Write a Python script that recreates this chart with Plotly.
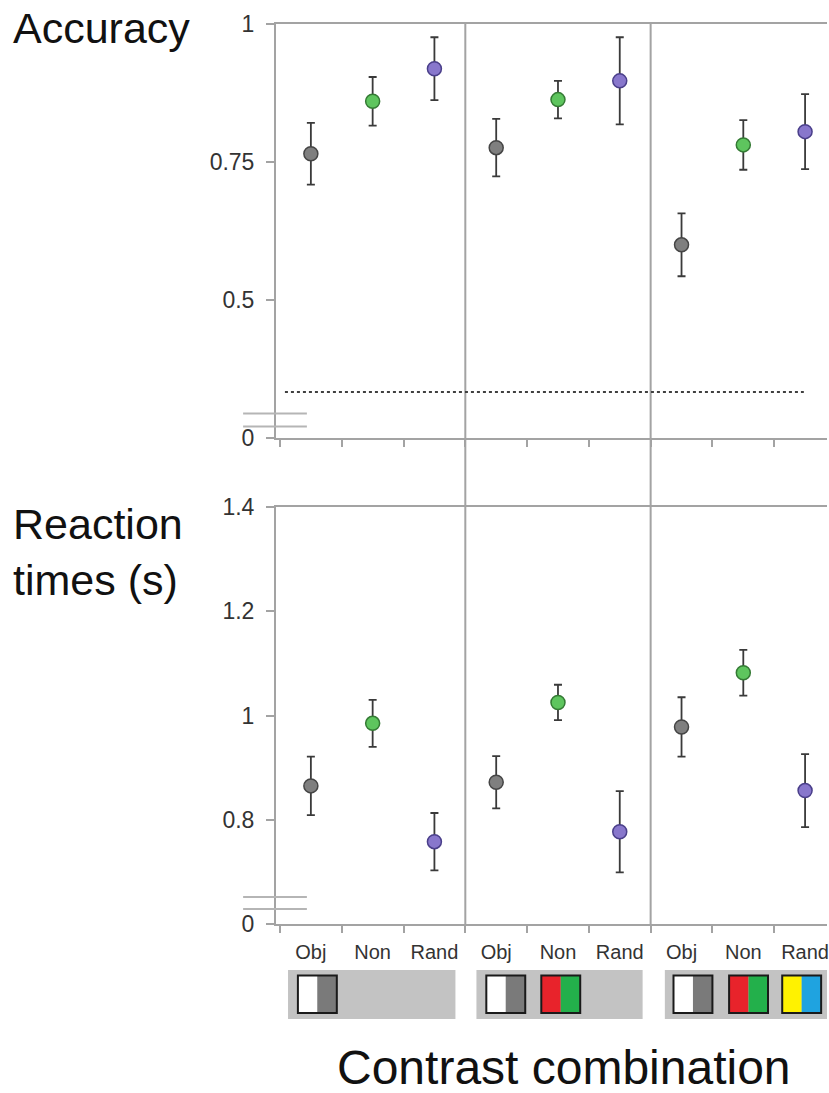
import plotly.graph_objects as go

# ---------------- data ----------------
categories = ["Obj", "Non", "Rand"]
panels = ["Achromatic", "Red-Green", "Yellow-Blue"]
cat_labels = categories * 3

acc_mean = [0.765, 0.860, 0.919, 0.776, 0.863, 0.897, 0.600, 0.781, 0.805]
acc_err = [0.056, 0.044, 0.057, 0.052, 0.034, 0.079, 0.057, 0.045, 0.068]
rt_mean = [0.865, 0.985, 0.758, 0.872, 1.025, 0.777, 0.978, 1.082, 0.856]
rt_err = [0.056, 0.045, 0.055, 0.050, 0.034, 0.078, 0.057, 0.044, 0.070]
chance_level = 1 / 3

acc_ticks = [0.25, 0.5, 0.75, 1.0]
acc_ticktext = ["0", "0.5", "0.75", "1"]
rt_ticks = [0.6, 0.8, 1.0, 1.2, 1.4]
rt_ticktext = ["0", "0.8", "1", "1.2", "1.4"]

# ---------------- styles ----------------
fill = {"Obj": "#7f7f7f", "Non": "#5ec55e", "Rand": "#8877cc"}
edge = {"Obj": "#454545", "Non": "#347a34", "Rand": "#4a3f8a"}
axis_col = "#a3a3a3"
txt_col = "#333333"
font_fam = "Liberation Sans, Arial, sans-serif"

xpos = [i + 0.5 for i in range(len(cat_labels))]

fig = go.Figure()
for ydata, err, yax in [(acc_mean, acc_err, "y"), (rt_mean, rt_err, "y2")]:
    fig.add_trace(go.Scatter(
        x=xpos, y=ydata, mode="markers",
        xaxis="x" if yax == "y" else "x2", yaxis=yax,
        marker=dict(size=14, color=[fill[c] for c in cat_labels],
                    line=dict(width=1.5, color=[edge[c] for c in cat_labels])),
        error_y=dict(type="data", array=err, visible=True, color="#3a3a3a",
                     thickness=1.8, width=4),
        showlegend=False, cliponaxis=False,
    ))

xrange = [-4 / 62, 549 / 62]
common_x = dict(range=xrange, showline=True, linecolor=axis_col, linewidth=2,
                mirror=True, showgrid=False, zeroline=False,
                tickmode="array", tickvals=xpos, ticks="",
                minor=dict(ticks="outside", tick0=0, dtick=1, ticklen=7,
                           tickcolor=axis_col, tickwidth=1.5))
common_y = dict(showline=True, linecolor=axis_col, linewidth=2, showgrid=False,
                zeroline=False, ticks="outside", ticklen=8, tickcolor=axis_col,
                tickwidth=1.5, tickfont=dict(size=23, color=txt_col, family=font_fam),
                ticklabelstandoff=7)

fig.update_layout(
    width=829, height=1093,
    margin=dict(l=276, r=0, t=24, b=169),
    paper_bgcolor="white", plot_bgcolor="white",
    xaxis=dict(common_x, anchor="y", domain=[0, 1], showticklabels=False),
    xaxis2=dict(common_x, anchor="y2", domain=[0, 1], ticktext=cat_labels,
                tickfont=dict(size=20, color=txt_col, family=font_fam),
                ticklabelstandoff=9, ticklabeloverflow="allow"),
    yaxis=dict(common_y, anchor="x", domain=[0.54, 1.0], range=[0.25, 1.0],
               tickmode="array", tickvals=acc_ticks, ticktext=acc_ticktext),
    yaxis2=dict(common_y, anchor="x2", domain=[0, 0.4633], range=[0.6, 1.4],
                tickmode="array", tickvals=rt_ticks, ticktext=rt_ticktext),
)

shapes = []
# panel dividers spanning both plots
for xv in [3, 6]:
    shapes.append(dict(type="line", xref="x", yref="paper", x0=xv, x1=xv, y0=0, y1=1,
                       line=dict(color=axis_col, width=2)))
# chance level dotted line
shapes.append(dict(type="line", xref="x", yref="y", x0=0.08, x1=8.48,
                   y0=chance_level, y1=chance_level,
                   line=dict(color="#404040", width=2, dash="dot")))
# axis break marks
for yref, ys in [("y", [0.2945, 0.271]), ("y2", [0.652, 0.629])]:
    for yv in ys:
        shapes.append(dict(type="line", xref="paper", yref=yref, x0=-33 / 553, x1=31 / 553,
                           y0=yv, y1=yv, line=dict(color="#b5b5b5", width=2)))
# grey legend boxes under each panel
box_y0, box_y1 = -0.1056, -0.0511
for x0, x1 in [(0.13, 2.84), (3.18, 5.87), (6.23, 9.0)]:
    shapes.append(dict(type="rect", xref="x2", yref="paper", x0=x0, x1=x1,
                       y0=box_y0, y1=box_y1, fillcolor="#c3c3c3", line=dict(width=0),
                       layer="below"))
# contrast icons (left edge, left colour, right colour)
pair_cols = {"Obj": ("#ffffff", "#7a7a7a"), "Non": ("#e8232b", "#23b04b"),
             "Rand": ("#fff200", "#1fa3e0")}
icons = [(0.29, "Obj"), (3.34, "Obj"), (4.23, "Non"),
         (6.37, "Obj"), (7.27, "Non"), (8.13, "Rand")]
iw = 0.63
iy0, iy1 = -0.0989, -0.0572
for left, kind in icons:
    cl, cr = pair_cols[kind]
    shapes.append(dict(type="rect", xref="x2", yref="paper", x0=left, x1=left + iw / 2,
                       y0=iy0, y1=iy1, fillcolor=cl, line=dict(width=0)))
    shapes.append(dict(type="rect", xref="x2", yref="paper", x0=left + iw / 2, x1=left + iw,
                       y0=iy0, y1=iy1, fillcolor=cr, line=dict(width=0)))
    shapes.append(dict(type="rect", xref="x2", yref="paper", x0=left, x1=left + iw,
                       y0=iy0, y1=iy1, fillcolor="rgba(0,0,0,0)",
                       line=dict(color="#1a1a1a", width=2)))
fig.update_layout(shapes=shapes)

ann = [
    dict(text="Accuracy", x=-266 / 553, y=(924 - 28) / 900, xanchor="left", yanchor="middle",
         font=dict(size=43, color="#111111", family=font_fam)),
    dict(text="Reaction<br>times (s)", x=-266 / 553, y=(924 - 552) / 900, xanchor="left",
         yanchor="middle", align="left",
         font=dict(size=43, color="#111111", family=font_fam)),
    dict(text="Contrast combination", x=(565 - 276) / 553, y=(924 - 1067) / 900,
         xanchor="center", yanchor="middle",
         font=dict(size=48, color="#111111", family=font_fam)),
]
for a in ann:
    a.update(xref="paper", yref="paper", showarrow=False)
fig.update_layout(annotations=ann)

fig.write_html("out.html")
